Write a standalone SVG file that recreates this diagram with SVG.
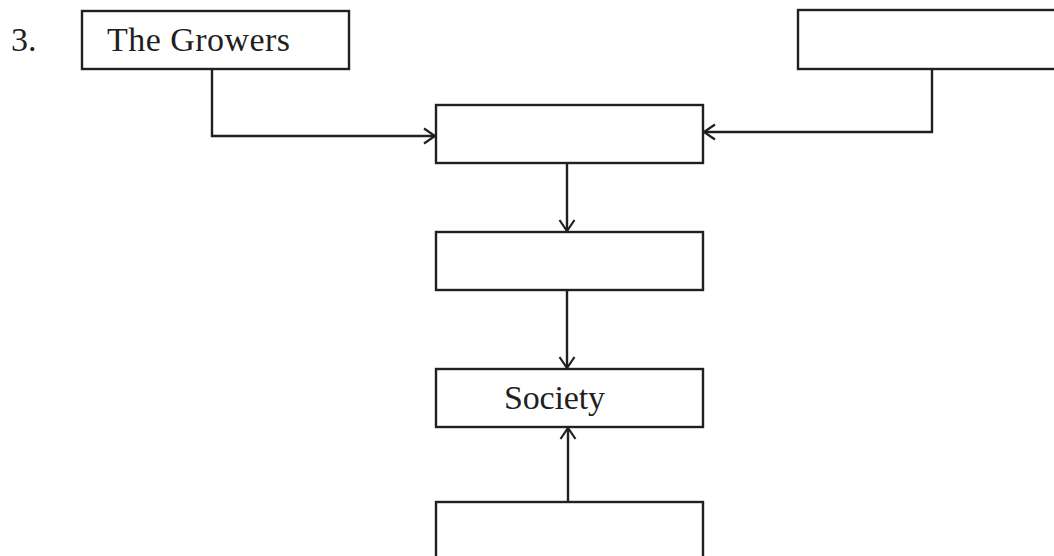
<svg xmlns="http://www.w3.org/2000/svg" width="1054" height="556" viewBox="0 0 1054 556">
<style>
.box{fill:#fff;stroke:#231f20;stroke-width:2.4}
.conn{fill:none;stroke:#231f20;stroke-width:2.4}
.lbl{font-family:"Liberation Serif","Times New Roman",serif;font-size:34px;fill:#231f20}
</style>
<defs>
<marker id="arr" viewBox="0 0 16 18" refX="14" refY="9" markerWidth="16" markerHeight="18" markerUnits="userSpaceOnUse" orient="auto">
<path d="M3,1.5 L14,9 L3,16.5" fill="none" stroke="#231f20" stroke-width="2.2"/>
</marker>
</defs>
<rect width="1054" height="556" fill="#fff"/>
<text class="lbl" x="11" y="51">3.</text>
<g id="growers"><rect class="box" x="82" y="11" width="267" height="58"/><text class="lbl" x="107" y="51" textLength="183">The Growers</text></g>
<g id="topright"><rect class="box" x="798" y="10" width="270" height="59"/></g>
<g id="center1"><rect class="box" x="436" y="105" width="267" height="58"/></g>
<g id="center2"><rect class="box" x="436" y="232" width="267" height="58"/></g>
<g id="society"><rect class="box" x="436" y="369" width="267" height="58"/><text class="lbl" x="504" y="409" textLength="101">Society</text></g>
<g id="bottom"><rect class="box" x="436" y="502" width="267" height="70"/></g>
<g id="connectors">
<path class="conn" d="M212,69 V136 H435" marker-end="url(#arr)"/>
<path class="conn" d="M932,69 V132 H704" marker-end="url(#arr)"/>
<path class="conn" d="M567,163 V231" marker-end="url(#arr)"/>
<path class="conn" d="M567,290 V368" marker-end="url(#arr)"/>
<path class="conn" d="M568,502 V428" marker-end="url(#arr)"/>
</g>
</svg>
